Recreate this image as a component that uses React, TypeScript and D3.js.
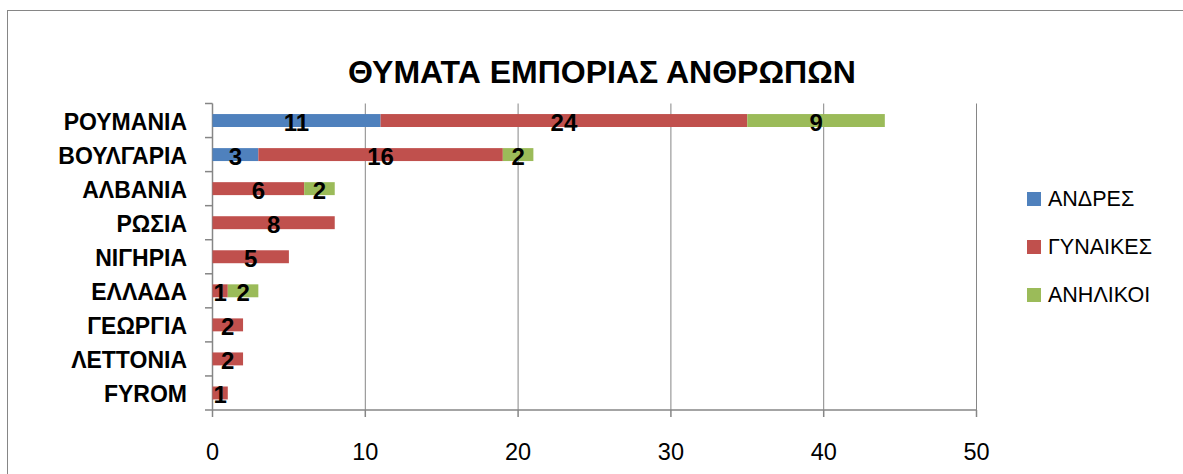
import React from "react";
import * as d3 from "d3";

const categories = ["ΡΟΥΜΑΝΙΑ", "ΒΟΥΛΓΑΡΙΑ", "ΑΛΒΑΝΙΑ", "ΡΩΣΙΑ", "ΝΙΓΗΡΙΑ", "ΕΛΛΑΔΑ", "ΓΕΩΡΓΙΑ", "ΛΕΤΤΟΝΙΑ", "FYROM"];
const andres = [11, 3, 0, 0, 0, 0, 0, 0, 0];
const gynaikes = [24, 16, 6, 8, 5, 1, 2, 2, 1];
const anilikoi = [9, 2, 2, 0, 0, 2, 0, 0, 0];
const seriesNames = ["ΑΝΔΡΕΣ", "ΓΥΝΑΙΚΕΣ", "ΑΝΗΛΙΚΟΙ"];
const seriesColors = ["#4F81BD", "#C0504D", "#9BBB59"];
const xTicks = [0, 10, 20, 30, 40, 50];
const title = "ΘΥΜΑΤΑ ΕΜΠΟΡΙΑΣ ΑΝΘΡΩΠΩΝ";

const W = 1183;
const H = 474;
const FONT = "'Liberation Sans', Arial, sans-serif";

export default function App() {
  const x = d3.scaleLinear().domain([0, 50]).range([212.5, 976.5]);
  const y = d3.scaleBand<string>().domain(categories).range([103.5, 410]).padding(0);
  const step = y.step();
  const barH = step * 0.38;

  const rows = categories.map((c, i) => ({ cat: c, ANDRES: andres[i], GYN: gynaikes[i], ANIL: anilikoi[i] }));
  const stack = d3.stack<any>().keys(["ANDRES", "GYN", "ANIL"]);
  const series = stack(rows);
  const grid = "#868686";

  return (
    <svg width={W} height={H} style={{ position: "absolute", left: 0, top: 0, background: "#fff" }}>
      <rect x={7.5} y={10.5} width={1300} height={600} fill="#fff" stroke={grid} strokeWidth={1} />
      <text x={602} y={83} textAnchor="middle" fontFamily={FONT} fontWeight="bold" fontSize={32} fill="#000">
        {title}
      </text>
      {/* gridlines */}
      {xTicks.slice(1).map((t) => (
        <line key={"g" + t} x1={x(t)} x2={x(t)} y1={103.5} y2={410} stroke={grid} strokeWidth={1} />
      ))}
      {/* x axis */}
      <line x1={x(0)} x2={x(50)} y1={410} y2={410} stroke={grid} strokeWidth={1.5} />
      {xTicks.map((t) => (
        <g key={"t" + t}>
          <line x1={x(t)} x2={x(t)} y1={410} y2={417} stroke={grid} strokeWidth={1.5} />
          <text x={x(t)} y={460} textAnchor="middle" fontFamily={FONT} fontSize={23.5} fill="#000">
            {t}
          </text>
        </g>
      ))}
      {/* y axis */}
      <line x1={x(0)} x2={x(0)} y1={103.5} y2={410} stroke={grid} strokeWidth={1.5} />
      {d3.range(categories.length + 1).map((i) => (
        <line key={"yt" + i} x1={205} x2={x(0)} y1={103.5 + i * step} y2={103.5 + i * step} stroke={grid} strokeWidth={1.5} />
      ))}
      {categories.map((c) => (
        <text key={"c" + c} x={187} y={(y(c) as number) + step / 2 + 1} textAnchor="end" dominantBaseline="central"
          fontFamily={FONT} fontWeight="bold" fontSize={23} fill="#000">
          {c}
        </text>
      ))}
      {/* bars */}
      {series.map((s, si) =>
        s.map((d, i) => {
          const v = d[1] - d[0];
          if (v <= 0) return null;
          const cy = (y(categories[i]) as number) + step / 2;
          return (
            <g key={"b" + si + "-" + i}>
              <rect x={x(d[0])} y={cy - barH / 2} width={x(d[1]) - x(d[0])} height={barH} fill={seriesColors[si]} />
              <text x={(x(d[0]) + x(d[1])) / 2} y={cy + 2} textAnchor="middle" dominantBaseline="central"
                fontFamily={FONT} fontWeight="bold" fontSize={24} fill="#000">
                {v}
              </text>
            </g>
          );
        })
      )}
      {/* legend */}
      {seriesNames.map((n, i) => (
        <g key={"l" + n} transform={`translate(1027, ${192 + i * 48})`}>
          <rect x={0} y={0} width={14} height={14} fill={seriesColors[i]} />
          <text x={21} y={7} dominantBaseline="central" fontFamily={FONT} fontSize={21.5} fill="#000">
            {n}
          </text>
        </g>
      ))}
    </svg>
  );
}
